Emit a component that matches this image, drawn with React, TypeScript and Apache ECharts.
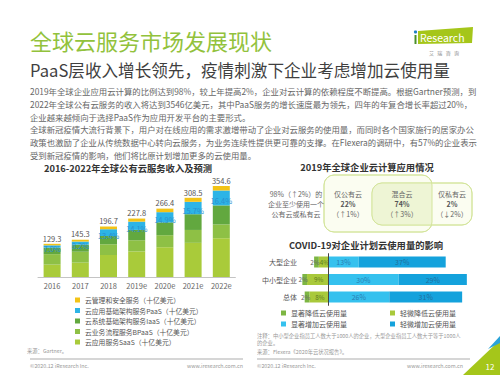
import React, { useEffect, useRef } from 'react';
import * as echarts from 'echarts';

// ---------- data: global public cloud revenue (billion USD) ----------
const years = ['2016', '2017', '2018', '2019e', '2020e', '2021e', '2022e'];
const saas = [48.2, 55.9, 85.7, 99.5, 116.0, 133.0, 151.1];
const bpaas = [40.8, 42.6, 41.7, 43.7, 46.9, 50.3, 53.8];
const iaas = [25.4, 27.7, 32.4, 40.3, 50.0, 61.3, 74.1];
const paas = [9.0, 11.9, 26.4, 32.2, 39.7, 48.3, 58.0];
const mgmt = [5.9, 7.2, 10.5, 12.0, 13.8, 15.7, 17.6];
const totals = ['129.3', '145.3', '196.7', '227.8', '266.4', '308.5', '354.6'];
const paasShare = ['7.0%', '8.2%', '13.4%', '14.1%', '14.9%', '15.7%', '16.4%'];

const revNames = [
  '云应用服务SaaS（十亿美元）',
  '云业务流程服务BPaaS（十亿美元）',
  '云系统基础架构服务IaaS（十亿美元）',
  '云应用基础架构服务PaaS（十亿美元）',
  '云管理和安全服务（十亿美元）',
];

// ---------- data: COVID-19 impact on planned cloud usage (%) ----------
const sizes = ['大型企业', '中小型企业', '总体'];
const sigDecrease = [-2, -2, -2];
const slightDecrease = [-4, -9, -8];
const sigIncrease = [13, 30, 26];
const slightIncrease = [37, 29, 31];
const covidNames = ['显著降低云使用量', '轻微降低云使用量', '显著增加云使用量', '轻微增加云使用量'];

// ---------- data: 2019 cloud adoption ----------
const adoptLabels = ['仅公有云', '混合云', '仅私有云'];
const adoptValues = ['22%', '74%', '2%'];
const adoptChanges = ['（↑1%）', '（↑3%）', '（↓2%）'];

const bodyLines = [
  '2019年全球企业应用云计算的比例达到98%，较上年提高2%，企业对云计算的依赖程度不断提高。根据Gartner预测，到',
  '2022年全球公有云服务的收入将达到3546亿美元，其中PaaS服务的增长速度最为领先，四年的年复合增长率超过20%，',
  '企业越来越倾向于选择PaaS作为应用开发平台的主要形式。',
  '全球新冠疫情大流行背景下，用户对在线应用的需求激增带动了企业对云服务的使用量，而同时各个国家施行的居家办公',
  '政策也激励了企业从传统数据中心转向云服务，为业务连续性提供更可靠的支撑。在Flexera的调研中，有57%的企业表示',
  '受到新冠疫情的影响，他们将比原计划增加更多的云使用量。',
];

const FONT = '"Noto Sans CJK SC", "Noto Sans", sans-serif';

function T(text: string, x: number, y: number, size: number, fill: string, align = 'left', weight = 'normal') {
  return {
    type: 'text',
    x,
    y,
    silent: true,
    style: {
      text,
      fill,
      fontSize: size,
      fontWeight: weight,
      fontFamily: FONT,
      align,
      verticalAlign: 'middle',
      textAlign: align,
      textVerticalAlign: 'middle',
    },
  };
}

function buildOption() {
  const graphics: any[] = [];
  // header
  graphics.push(T('全球云服务市场发展现状', 30, 40, 22, '#92c23c'));
  graphics.push(T('PaaS层收入增长领先，疫情刺激下企业考虑增加云使用量', 30, 70, 16.6, '#3f3f3f'));
  // logo
  graphics.push({ type: 'polygon', silent: true, shape: { points: [[418, 31], [473, 27], [472, 43], [418, 44]] }, style: { fill: '#a5c61a' } });
  graphics.push({ type: 'rect', silent: true, shape: { x: 414.5, y: 35, width: 2, height: 9 }, style: { fill: '#4a8f2a' } });
  graphics.push({ type: 'circle', silent: true, shape: { cx: 415.5, cy: 32, r: 1.6 }, style: { fill: '#1f7fc4' } });
  graphics.push(T('Research', 420, 37, 10.5, '#ffffff'));
  graphics.push(T('艾   瑞   咨   询', 444, 52, 5, '#888888', 'center'));
  // body
  bodyLines.forEach((l, i) => graphics.push(T(l, 30, 91 + i * 12.8, 8.4, '#666666')));
  // chart titles
  graphics.push(T('2016-2022年全球公有云服务收入及预测', 128, 168, 9.3, '#333333', 'center', 'bold'));
  graphics.push(T('2019年全球企业云计算应用情况', 367, 167, 9.3, '#333333', 'center', 'bold'));
  graphics.push(T('COVID-19对企业计划云使用量的影响', 366, 245, 9.3, '#333333', 'center', 'bold'));
  // venn boxes
  graphics.push({ type: 'rect', silent: true, shape: { x: 324, y: 175, width: 108, height: 57, r: 10 }, style: { fill: '#fbfdf1', stroke: '#d9e8a8', lineWidth: 1 } });
  graphics.push({ type: 'rect', silent: true, shape: { x: 372, y: 183, width: 100, height: 42, r: 10 }, style: { fill: '#fbfdf1', stroke: '#d9e8a8', lineWidth: 1 } });
  graphics.push({ type: 'rect', silent: true, shape: { x: 372, y: 183, width: 60, height: 42, r: [10, 0, 0, 10] }, style: { fill: '#eef5d5' } });
  graphics.push({ type: 'rect', silent: true, shape: { x: 324, y: 175, width: 108, height: 57, r: 10 }, style: { fill: 'none', stroke: '#d4e59c', lineWidth: 1 } });
  graphics.push({ type: 'rect', silent: true, shape: { x: 372, y: 183, width: 100, height: 42, r: 10 }, style: { fill: 'none', stroke: '#d4e59c', lineWidth: 1 } });
  graphics.push(T('98%（↑2%）的', 296, 194, 7, '#666666', 'center'));
  graphics.push(T('企业至少使用一个', 296, 204, 7, '#666666', 'center'));
  graphics.push(T('公有云或私有云', 296, 214, 7, '#666666', 'center'));
  const cx = [348, 402, 452];
  adoptLabels.forEach((l, i) => {
    graphics.push(T(l, cx[i], 194, 7, '#666666', 'center'));
    graphics.push(T(adoptValues[i], cx[i], 204, 7, '#555555', 'center', 'bold'));
    graphics.push(T(adoptChanges[i], cx[i], 214, 7, '#666666', 'center'));
  });
  // notes & footers
  graphics.push(T('来源：Gartner。', 27, 351, 5.3, '#999999'));
  graphics.push(T('注释：中小型企业指员工人数大于1000人的企业，大型企业指员工人数大于等于1000人', 257, 336, 5.3, '#999999'));
  graphics.push(T('的企业。', 257, 343, 5.3, '#999999'));
  graphics.push(T('来源：Flexera《2020年云状况报告》。', 257, 352, 5.3, '#999999'));
  graphics.push({ type: 'line', silent: true, shape: { x1: 30, y1: 359, x2: 243, y2: 359 }, style: { stroke: '#c8c8c8', lineWidth: 1.5 } });
  graphics.push({ type: 'line', silent: true, shape: { x1: 257, y1: 359, x2: 470, y2: 359 }, style: { stroke: '#c8c8c8', lineWidth: 1.5 } });
  graphics.push(T('©2020.12 iResearch Inc.', 30, 366, 5.3, '#999999'));
  graphics.push(T('www.iresearch.com.cn', 243, 366, 5.3, '#999999', 'right'));
  graphics.push(T('©2020.12 iResearch Inc.', 257, 366, 5.3, '#999999'));
  graphics.push(T('www.iresearch.com.cn', 463, 366, 5.3, '#999999', 'right'));
  // corner decoration
  graphics.push({ type: 'polygon', silent: true, shape: { points: [[463, 375], [500, 340], [500, 375]] }, style: { fill: '#a5c61a' } });
  graphics.push({ type: 'polygon', silent: true, shape: { points: [[488, 349], [500, 336], [500, 343]] }, style: { fill: '#2aa3d8' } });
  graphics.push(T('12', 490, 366, 8, '#ffffff', 'center'));

  const revColors = ['#a9cb3a', '#8ec045', '#62a83f', '#2db4e6', '#f3c316'];
  const revData = [saas, bpaas, iaas, paas, mgmt];
  const revSeries = revData.map((d, i) => {
    const s: any = {
      name: revNames[i],
      type: 'bar',
      stack: 'rev',
      xAxisIndex: 0,
      yAxisIndex: 0,
      barWidth: 17,
      data: d,
      itemStyle: { color: revColors[i] },
    };
    if (i === 3) {
      s.label = {
        show: true,
        position: 'inside',
        offset: [0, 2.5],
        formatter: (p: any) => paasShare[p.dataIndex],
        color: '#2a8fd0',
        fontSize: 7.5,
        fontFamily: FONT,
      };
    }
    if (i === 4) {
      s.label = {
        show: true,
        position: 'top',
        distance: 2,
        formatter: (p: any) => totals[p.dataIndex],
        color: '#555555',
        fontSize: 7.5,
        fontFamily: FONT,
      };
    }
    return s;
  });

  const cLabel = (color: string, size: number) => ({
    show: true,
    position: 'inside',
    formatter: (p: any) => Math.abs(p.value) + '%',
    color,
    fontSize: size,
    fontFamily: FONT,
  });
  const covidSeries = [
    { name: covidNames[1], data: slightDecrease, color: '#a9c93b', lc: '#5d7a22', fs: 6.3 },
    { name: covidNames[0], data: sigDecrease, color: '#7db643', lc: '#666666', fs: 6.3 },
    { name: covidNames[2], data: sigIncrease, color: '#35c1ee', lc: '#2a7fb2', fs: 7 },
    { name: covidNames[3], data: slightIncrease, color: '#14a2dc', lc: '#20709e', fs: 7 },
  ].map((s, i) => {
    const o: any = {
      name: s.name,
      type: 'bar',
      stack: 'covid',
      xAxisIndex: 1,
      yAxisIndex: 1,
      barWidth: 11,
      data: s.data,
      itemStyle: { color: s.color },
      label: cLabel(s.lc, s.fs),
    };
    if (i === 1) o.label.offset = [-1.5, 0];
    if (i === 0) {
      o.label.offset = [1, 0];
      o.markLine = {
        silent: true,
        symbol: 'none',
        label: { show: false },
        lineStyle: { color: '#444444', width: 1, type: 'solid' },
        data: [{ xAxis: 0 }],
      };
    }
    return o;
  });

  const legendText = { fontSize: 6.8, color: '#555555', fontFamily: FONT, lineHeight: 10 };

  return {
    animation: false,
    backgroundColor: '#ffffff',
    textStyle: { fontFamily: FONT },
    grid: [
      { left: 38, top: 184.6, width: 197.4, height: 92.4 },
      { left: 300, top: 253.25, width: 169.2, height: 52.5 },
    ],
    xAxis: [
      {
        gridIndex: 0,
        type: 'category',
        data: years,
        axisLine: { lineStyle: { color: '#c4c4c4', width: 1 } },
        axisTick: { show: false },
        axisLabel: { color: '#666666', fontSize: 7.5, margin: 5, fontFamily: FONT },
      },
      { gridIndex: 1, type: 'value', min: -12, max: 60, show: false },
    ],
    yAxis: [
      { gridIndex: 0, type: 'value', min: 0, max: 360, show: false },
      {
        gridIndex: 1,
        type: 'category',
        data: sizes,
        inverse: true,
        axisLine: { show: false },
        axisTick: { show: false },
        axisLabel: { color: '#555555', fontSize: 7, margin: 3, fontFamily: FONT },
      },
    ],
    legend: [
      {
        orient: 'vertical',
        left: 75,
        top: 295,
        padding: 0,
        itemGap: 0.5,
        itemWidth: 5,
        itemHeight: 5,
        icon: 'rect',
        data: [revNames[4], revNames[3], revNames[2], revNames[1], revNames[0]],
        textStyle: legendText,
      },
      {
        orient: 'vertical',
        left: 281,
        top: 307.5,
        padding: 0,
        itemGap: 0,
        itemWidth: 5,
        itemHeight: 5,
        icon: 'rect',
        data: [covidNames[0], covidNames[2]],
        textStyle: { ...legendText, fontSize: 7, lineHeight: 11 },
      },
      {
        orient: 'vertical',
        left: 390,
        top: 307.5,
        padding: 0,
        itemGap: 0,
        itemWidth: 5,
        itemHeight: 5,
        icon: 'rect',
        data: [covidNames[1], covidNames[3]],
        textStyle: { ...legendText, fontSize: 7, lineHeight: 11 },
      },
    ],
    series: [...revSeries, ...covidSeries],
    graphic: graphics,
  };
}

export default function App() {
  const ref = useRef<HTMLDivElement>(null);
  useEffect(() => {
    if (!ref.current) return;
    const chart = echarts.init(ref.current, null, { renderer: 'svg' });
    chart.setOption(buildOption() as any);
    return () => chart.dispose();
  }, []);
  return (
    <div
      ref={ref}
      style={{ position: 'fixed', left: 0, top: 0, width: 500, height: 375, background: '#fff' }}
    />
  );
}
